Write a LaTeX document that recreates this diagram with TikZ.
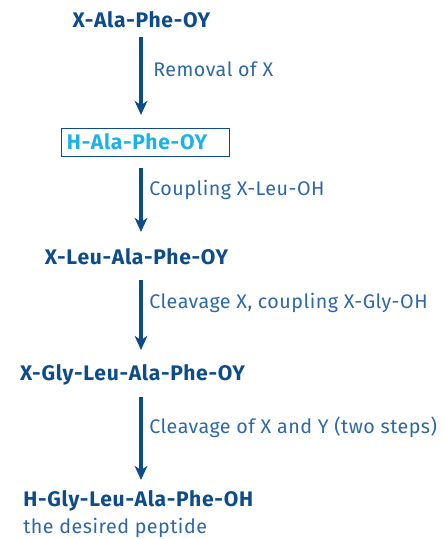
\documentclass[tikz,border=0pt]{standalone}
\usepackage{fontspec}
\setmainfont{Fira Sans}
\newfontfamily\pepfont[LetterSpace=3.5]{Fira Sans}
\newfontfamily\labelfont[LetterSpace=2.5]{Fira Sans}
\usepackage{tikz}
\usetikzlibrary{arrows.meta,positioning,calc}
\definecolor{pepblue}{HTML}{0D4C8B}
\definecolor{pepcyan}{HTML}{1AB2E8}
\definecolor{steptext}{HTML}{2D68A6}
\tikzset{
  peptide/.style={font=\pepfont\fontsize{15}{18}\selectfont\bfseries, text=pepblue, inner sep=0pt},
  steplabel/.style={font=\labelfont\fontsize{14}{16}\selectfont, text=steptext, inner sep=0pt, anchor=west},
  flow/.style={-{Stealth[length=10pt,width=9pt,inset=3pt]}, line width=2.2pt, draw=pepblue}
}
\begin{document}
\begin{tikzpicture}[x=0.025cm, y=-0.025cm]
  \useasboundingbox (0,0) rectangle (443,539);
  \coordinate (axis) at (141,0);
  % peptide chain, step by step
  \node[peptide] (p1) at (141.5,20) {X-Ala-Phe-OY};
  \node[peptide, text=pepcyan, draw=pepblue, line width=0.6pt, text width=3.9cm, inner xsep=0.15cm, minimum height=0.7cm, align=left] (p2) at (145,142) {H-Ala-Phe-OY};
  \node[peptide] (p3) at (136.5,257) {X-Leu-Ala-Phe-OY};
  \node[peptide] (p4) at (132.5,375) {X-Gly-Leu-Ala-Phe-OY};
  \node[peptide, anchor=west] (p5) at (23,501) {H-Gly-Leu-Ala-Phe-OH};
  \node[steplabel, anchor=north west] (goal) at ($(p5.south west)+(0,6)$) {the desired peptide};
  % reactions
  \draw[flow] (p1.south -| axis) ++(0,9) coordinate (s1) -- (s1 |- 0,115) coordinate (e1);
  \draw[flow] (p2.south -| axis) ++(0,12) coordinate (s2) -- (s2 |- 0,232) coordinate (e2);
  \draw[flow] (p3.south -| axis) ++(0,15) coordinate (s3) -- (s3 |- 0,350) coordinate (e3);
  \draw[flow] (p4.south -| axis) ++(0,11) coordinate (s4) -- (s4 |- 0,480) coordinate (e4);
  \node[steplabel] (r1) at (153,69) {Removal of X};
  \node[steplabel] (r2) at (149,190) {Coupling X-Leu-OH};
  \node[steplabel] (r3) at (149,303) {Cleavage X, coupling X-Gly-OH};
  \node[steplabel] (r4) at (149,427) {Cleavage of X and Y (two steps)};
\end{tikzpicture}
\end{document}
